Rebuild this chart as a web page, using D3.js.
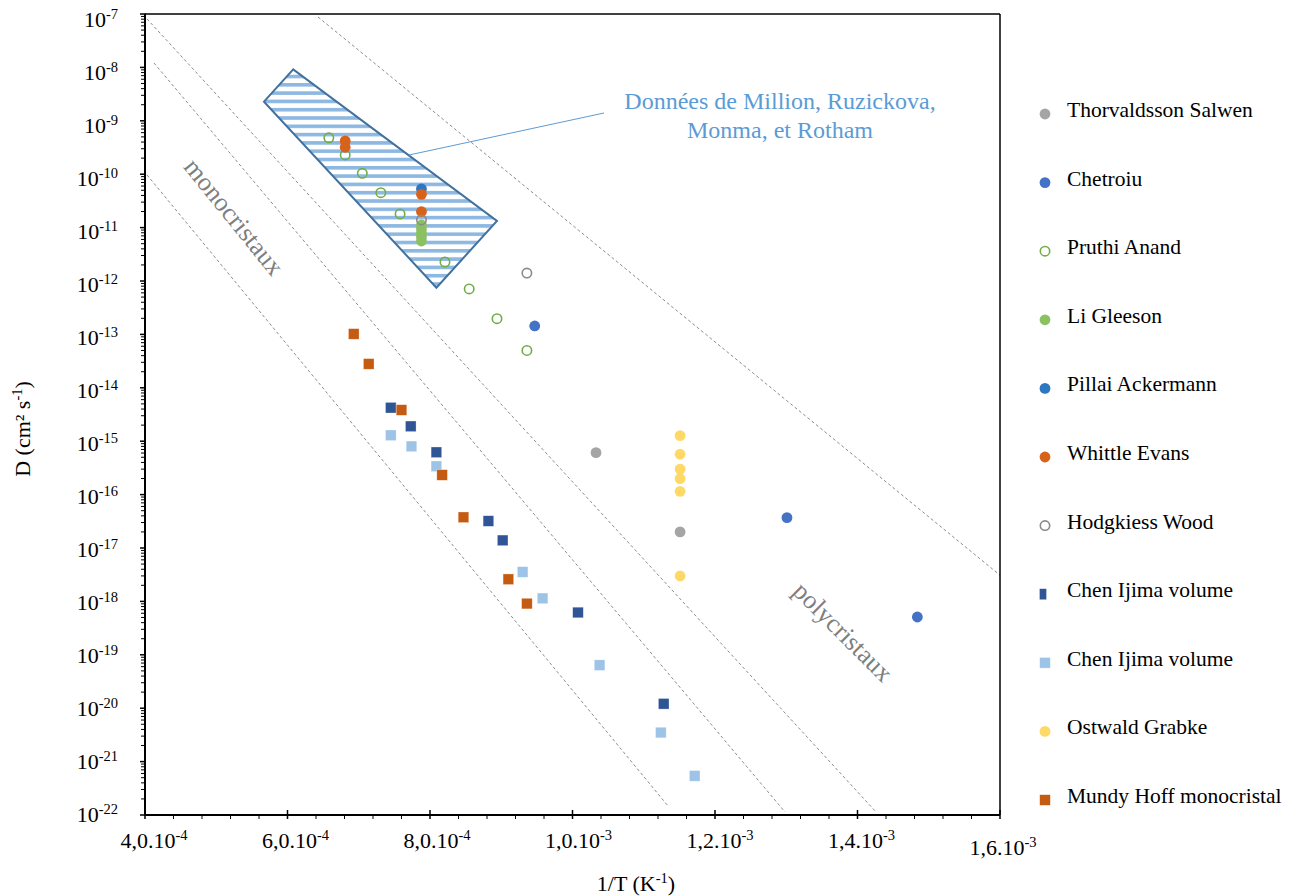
<!DOCTYPE html>
<html>
<head>
<meta charset="utf-8">
<script src="https://cdn.jsdelivr.net/npm/d3@7"></script>
<style>
  html, body { margin: 0; padding: 0; background: #ffffff; }
  svg { display: block; font-family: "Liberation Serif", "Times New Roman", serif; }
</style>
</head>
<body>
<svg id="chart" width="1299" height="896"></svg>
<script>
// ---------------- DATA ----------------
const xMajorTicks = [4e-4, 6e-4, 8e-4, 1.0e-3, 1.2e-3, 1.4e-3, 1.6e-3];
const xTickLabels = [["4,0.10", "-4"], ["6,0.10", "-4"], ["8,0.10", "-4"], ["1,0.10", "-3"], ["1,2.10", "-3"], ["1,4.10", "-3"], ["1,6.10", "-3"]];
const yDecades = [-22, -21, -20, -19, -18, -17, -16, -15, -14, -13, -12, -11, -10, -9, -8, -7];

const thorvaldssonSalwen = [[1.033e-3, 6.1e-16], [1.151e-3, 2.0e-17]];
const chetroiu = [[9.47e-4, 1.44e-13], [1.301e-3, 3.7e-17], [1.484e-3, 5.1e-19]];
const pruthiAnand = [[6.58e-4, 4.8e-10], [6.81e-4, 2.3e-10], [7.05e-4, 1.04e-10], [7.31e-4, 4.5e-11], [7.58e-4, 1.8e-11],
                     [8.21e-4, 2.27e-12], [8.55e-4, 7.1e-13], [8.94e-4, 1.97e-13], [9.36e-4, 5.0e-14]];
const liGleeson = [[7.88e-4, 1.12e-11], [7.88e-4, 9.4e-12], [7.88e-4, 7.9e-12], [7.88e-4, 6.7e-12], [7.88e-4, 5.6e-12]];
const pillaiAckermann = [[7.88e-4, 5.3e-11]];
const whittleEvans = [[6.81e-4, 4.2e-10], [6.81e-4, 3.2e-10], [7.88e-4, 4.2e-11], [7.88e-4, 2.0e-11]];
const hodgkiessWood = [[9.36e-4, 1.41e-12], [7.88e-4, 1.39e-11]];
const chenIjimaVolume1 = [[7.45e-4, 4.24e-15], [7.73e-4, 1.9e-15], [8.09e-4, 6.2e-16], [8.82e-4, 3.2e-17], [9.02e-4, 1.39e-17],
                          [1.0077e-3, 6.2e-19], [1.128e-3, 1.21e-20]];
const chenIjimaVolume2 = [[7.45e-4, 1.29e-15], [7.74e-4, 8.0e-16], [8.09e-4, 3.39e-16], [9.30e-4, 3.56e-18], [9.58e-4, 1.14e-18],
                          [1.038e-3, 6.4e-20], [1.124e-3, 3.5e-21], [1.1715e-3, 5.4e-22]];
const ostwaldGrabke = [[1.151e-3, 1.27e-15], [1.151e-3, 5.7e-16], [1.151e-3, 3.0e-16], [1.151e-3, 1.99e-16], [1.151e-3, 1.15e-16], [1.151e-3, 2.99e-18]];
const mundyHoff = [[6.93e-4, 1.02e-13], [7.14e-4, 2.8e-14], [7.60e-4, 3.84e-15], [8.17e-4, 2.33e-16], [8.47e-4, 3.76e-17],
                   [9.10e-4, 2.6e-18], [9.36e-4, 9.1e-19]];

// hatched region (Million, Ruzickova, Monma, Rotham)
const hatchedRegion = [[6.08e-4, 9.2e-9], [5.67e-4, 2.28e-9], [8.09e-4, 7.5e-13], [8.94e-4, 1.33e-11]];

// dashed reference lines (Arrhenius lines)
const refLines = [
  [[4.028e-4, 9.7e-11], [1.134e-3, 1.48e-22]],
  [[4.126e-4, 1.21e-8], [1.2982e-3, 1.14e-22]],
  [[4.028e-4, 8.1e-8], [1.426e-3, 1.14e-22]],
  [[6.428e-4, 8.8e-8], [1.6e-3, 3.1e-18]]
];

const seriesNames = ["Thorvaldsson Salwen", "Chetroiu", "Pruthi Anand", "Li Gleeson", "Pillai Ackermann", "Whittle Evans",
                     "Hodgkiess Wood", "Chen Ijima volume", "Chen Ijima volume", "Ostwald Grabke", "Mundy Hoff monocristal"];
const annotationLines = ["Données de Million, Ruzickova,", "Monma, et Rotham"];

// ---------------- STYLE / SERIES DEFINITIONS ----------------
const series = [
  { name: seriesNames[0], data: thorvaldssonSalwen, shape: "circle", fill: "#a5a5a5" },
  { name: seriesNames[1], data: chetroiu, shape: "circle", fill: "#4472c4" },
  { name: seriesNames[2], data: pruthiAnand, shape: "ring", stroke: "#70ad47" },
  { name: seriesNames[3], data: liGleeson, shape: "circle", fill: "#8cc163" },
  { name: seriesNames[4], data: pillaiAckermann, shape: "circle", fill: "#2e78c2" },
  { name: seriesNames[5], data: whittleEvans, shape: "circle", fill: "#d9621b" },
  { name: seriesNames[6], data: hodgkiessWood, shape: "ring", stroke: "#8a8a8a" },
  { name: seriesNames[7], data: chenIjimaVolume1, shape: "square", fill: "#2f5597", legendNarrow: true },
  { name: seriesNames[8], data: chenIjimaVolume2, shape: "square", fill: "#9dc3e6" },
  { name: seriesNames[9], data: ostwaldGrabke, shape: "circle", fill: "#ffd966" },
  { name: seriesNames[10], data: mundyHoff, shape: "square", fill: "#c55a11" }
];

// ---------------- LAYOUT ----------------
const svg = d3.select("#chart");
svg.append("rect").attr("width", 1299).attr("height", 896).attr("fill", "#fff");

const plot = { left: 145, right: 1000, top: 14, bottom: 815 };
const x = d3.scaleLinear().domain([4e-4, 1.6e-3]).range([plot.left, plot.right]);
const y = d3.scaleLog().domain([1e-22, 1e-7]).range([plot.bottom, plot.top]);
const labelY = d3.scaleLinear().domain([-7, -22]).range([27, 821.5]);
const labelX = d3.scaleLinear().domain([4e-4, 1.6e-3]).range([154, 1003]);

// pattern for hatched region
const defs = svg.append("defs");
const pat = defs.append("pattern").attr("id", "hatch").attr("patternUnits", "userSpaceOnUse")
  .attr("width", 10).attr("height", 8.3);
pat.append("rect").attr("width", 10).attr("height", 8.3).attr("fill", "#ffffff");
pat.append("rect").attr("y", 0).attr("width", 10).attr("height", 3.6).attr("fill", "#8db8e2");

// dashed lines
const line = d3.line().x(d => x(d[0])).y(d => y(d[1]));
svg.append("g").selectAll("path").data(refLines).join("path")
  .attr("d", line).attr("fill", "none").attr("stroke", "#8c8c8c").attr("stroke-width", 1)
  .attr("stroke-dasharray", "3,2.5");

// hatched polygon
svg.append("path").datum(hatchedRegion)
  .attr("d", d3.line().x(d => x(d[0])).y(d => y(d[1])).curve(d3.curveLinearClosed))
  .attr("fill", "url(#hatch)").attr("stroke", "#41719c").attr("stroke-width", 2);

// annotation leader + text
svg.append("line").attr("x1", 409).attr("y1", 155).attr("x2", 604).attr("y2", 113)
  .attr("stroke", "#5b9bd5").attr("stroke-width", 1);
svg.append("g").selectAll("text").data(annotationLines).join("text")
  .attr("x", 780).attr("y", (d, i) => 109 + i * 29)
  .attr("text-anchor", "middle").attr("font-size", 24).attr("fill", "#5b9bd5").text(d => d);

// region labels
svg.append("text").attr("transform", "translate(234,217) rotate(51)")
  .attr("text-anchor", "middle").attr("dominant-baseline", "central")
  .attr("font-size", 26).attr("fill", "#7f7f7f").text("monocristaux");
svg.append("text").attr("transform", "translate(843,632) rotate(45)")
  .attr("text-anchor", "middle").attr("dominant-baseline", "central")
  .attr("font-size", 26).attr("fill", "#7f7f7f").text("polycristaux");

// markers
function drawMarker(g, shape, s, cx, cy, narrow) {
  if (shape === "circle") {
    g.append("circle").attr("cx", cx).attr("cy", cy).attr("r", 5.4).attr("fill", s.fill);
  } else if (shape === "ring") {
    g.append("circle").attr("cx", cx).attr("cy", cy).attr("r", 4.7).attr("fill", "none")
      .attr("stroke", s.stroke).attr("stroke-width", 1.6);
  } else {
    const w = narrow ? 7 : 10.6, h = narrow ? 11 : 10.6;
    g.append("rect").attr("x", cx - w / 2).attr("y", cy - h / 2).attr("width", w).attr("height", h)
      .attr("fill", s.fill).attr("stroke", "#ffffff").attr("stroke-opacity", 0.5).attr("stroke-width", 0.6);
  }
}
const pts = svg.append("g");
series.forEach(s => {
  const g = pts.append("g");
  s.data.forEach(d => drawMarker(g, s.shape, s, x(d[0]), y(d[1]), false));
});

// axes frame
const axisG = svg.append("g");
axisG.append("line").attr("x1", plot.left).attr("x2", plot.right).attr("y1", plot.top).attr("y2", plot.top)
  .attr("stroke", "#000").attr("stroke-width", 1.5);
axisG.append("line").attr("x1", plot.right).attr("x2", plot.right).attr("y1", plot.top).attr("y2", plot.bottom)
  .attr("stroke", "#000").attr("stroke-width", 1.5);
axisG.append("line").attr("x1", plot.left).attr("x2", plot.left).attr("y1", plot.top).attr("y2", plot.bottom)
  .attr("stroke", "#000").attr("stroke-width", 2);
axisG.append("line").attr("x1", plot.left).attr("x2", plot.right).attr("y1", plot.bottom).attr("y2", plot.bottom)
  .attr("stroke", "#000").attr("stroke-width", 2);

// y ticks (log)
const yMinor = [];
yDecades.slice(0, -1).forEach(e => { for (let k = 2; k <= 9; k++) yMinor.push(k * Math.pow(10, e)); });
axisG.append("g").selectAll("line").data(yMinor).join("line")
  .attr("x1", plot.left - 4).attr("x2", plot.left).attr("y1", d => y(d)).attr("y2", d => y(d))
  .attr("stroke", "#000").attr("stroke-width", 1);
axisG.append("g").selectAll("line").data(yDecades).join("line")
  .attr("x1", plot.left - 5).attr("x2", plot.left + 1).attr("y1", d => y(Math.pow(10, d))).attr("y2", d => y(Math.pow(10, d)))
  .attr("stroke", "#000").attr("stroke-width", 1.5);
const yl = axisG.append("g").selectAll("text").data(yDecades).join("text")
  .attr("x", 118).attr("y", d => labelY(d)).attr("text-anchor", "end").attr("font-size", 22).attr("fill", "#000");
yl.append("tspan").text("10");
yl.append("tspan").attr("dy", -8).attr("font-size", 14.5).text(d => String(d));

// x ticks
const xMinor = d3.range(0, 31).map(i => 4e-4 + i * 0.4e-4).filter(v => !xMajorTicks.some(m => Math.abs(m - v) < 1e-9));
axisG.append("g").selectAll("line").data(xMinor).join("line")
  .attr("x1", d => x(d)).attr("x2", d => x(d)).attr("y1", plot.bottom).attr("y2", plot.bottom + 4)
  .attr("stroke", "#000").attr("stroke-width", 1);
axisG.append("g").selectAll("line").data(xMajorTicks).join("line")
  .attr("x1", d => x(d)).attr("x2", d => x(d)).attr("y1", plot.bottom - 5).attr("y2", plot.bottom + 4)
  .attr("stroke", "#000").attr("stroke-width", 1.5);
const xl = axisG.append("g").selectAll("text").data(xMajorTicks).join("text")
  .attr("x", d => labelX(d)).attr("y", (d, i) => i === xMajorTicks.length - 1 ? 855 : 848)
  .attr("text-anchor", "middle").attr("font-size", 22).attr("fill", "#000");
xl.append("tspan").text((d, i) => xTickLabels[i][0]);
xl.append("tspan").attr("dy", -8).attr("font-size", 14.5).text((d, i) => xTickLabels[i][1]);

// axis titles
const xt = svg.append("text").attr("x", 636).attr("y", 891).attr("text-anchor", "middle").attr("font-size", 22);
xt.append("tspan").text("1/T (K");
xt.append("tspan").attr("dy", -8).attr("font-size", 14.5).text("-1");
xt.append("tspan").attr("dy", 8).text(")");

const yt = svg.append("text").attr("transform", "translate(30,429) rotate(-90)").attr("text-anchor", "middle").attr("font-size", 22);
yt.append("tspan").text("D (cm² s");
yt.append("tspan").attr("dy", -8).attr("font-size", 14.5).text("-1");
yt.append("tspan").attr("dy", 8).text(")");

// legend
const leg = svg.append("g");
series.forEach((s, i) => {
  const my = 114 + i * 68.6;
  drawMarker(leg, s.shape, s, s.legendNarrow ? 1043 : 1045, my, s.legendNarrow);
  leg.append("text").attr("x", 1067).attr("y", my + 3).attr("font-size", 21.5).attr("fill", "#000").text(s.name);
});
</script>
</body>
</html>
